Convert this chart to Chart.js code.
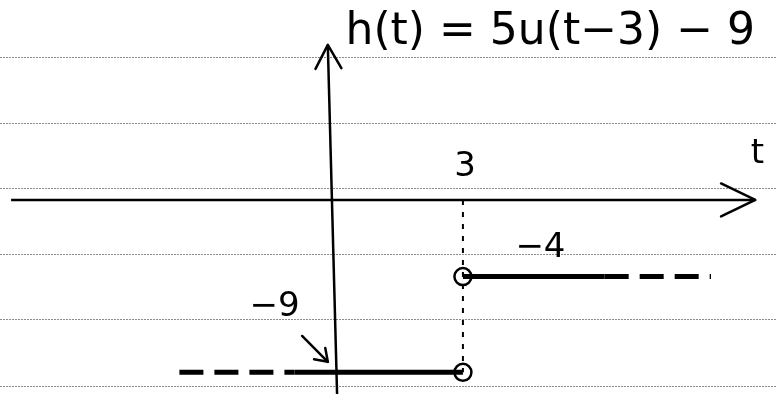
<!DOCTYPE html>
<html>
<head>
<meta charset="utf-8">
<script src="https://cdn.jsdelivr.net/npm/chart.js@4"></script>
<style>
  body { margin: 0; background: #fff; }
  canvas { display: block; }
</style>
</head>
<body>
<canvas id="sketch" width="777" height="394"></canvas>
<script>
// step function h(t) = 5u(t-3) - 9
const stepAt = 3;
const lowLevel = -9;
const highLevel = -4;
const lowerDashT = [-3.4, -0.8];   // drawn as dashes, continues left
const lowerSolidT = [-0.8, 3];
const upperSolidT = [3, 6.2];
const upperDashT = [6.2, 8.6];     // drawn as dashes, continues right

// axes as drawn (slightly crooked, by hand)
const tAxisT = [-7.2, 9.6];
const hAxisT = [0.16, -0.05];
const hAxisH = [-10.2, 8.1];

// ruled paper lines, in h units
const paperRules = [7.46, 4.02, 0.63, -2.82, -6.21, -9.71];

const titleText = "h(t) = 5u(t\u22123) \u2212 9";
const labels = [
  { text: "3", t: 3.05, h: 1.7 },
  { text: "t", t: 9.65, h: 2.4 },
  { text: "\u22124", t: 4.75, h: -2.5 },
  { text: "\u22129", t: -1.25, h: -5.6 },
];
// little arrow from the "-9" label down to the line
const noteArrowT = [-0.63, -0.05];
const noteArrowH = [-7.1, -8.45];

const pts = (ts, hs) => ts.map((t, i) => ({ x: t, y: Array.isArray(hs) ? hs[i] : hs }));

const ink = "#000";

const paperPlugin = {
  id: "paper",
  beforeDatasetsDraw(chart) {
    const { ctx, chartArea, scales } = chart;
    ctx.save();
    ctx.strokeStyle = "#8c8c8c";
    ctx.lineWidth = 1;
    ctx.setLineDash([2, 1]);
    paperRules.forEach((v) => {
      const y = Math.round(scales.y.getPixelForValue(v)) + 0.5;
      ctx.beginPath();
      ctx.moveTo(chartArea.left, y);
      ctx.lineTo(chartArea.right, y);
      ctx.stroke();
    });
    ctx.restore();
  },
};

const arrowHead = (ctx, x0, y0, x1, y1, len, spread) => {
  const a = Math.atan2(y1 - y0, x1 - x0);
  ctx.beginPath();
  ctx.moveTo(x1 - len * Math.cos(a - spread), y1 - len * Math.sin(a - spread));
  ctx.lineTo(x1, y1);
  ctx.lineTo(x1 - len * Math.cos(a + spread), y1 - len * Math.sin(a + spread));
  ctx.stroke();
};

const inkPlugin = {
  id: "ink",
  afterDatasetsDraw(chart) {
    const { ctx, scales } = chart;
    const X = (v) => scales.x.getPixelForValue(v);
    const Y = (v) => scales.y.getPixelForValue(v);
    ctx.save();
    ctx.strokeStyle = ink;
    ctx.fillStyle = ink;
    ctx.lineCap = "round";
    ctx.lineJoin = "round";
    ctx.setLineDash([]);

    // arrow heads of the two axes
    ctx.lineWidth = 2.5;
    arrowHead(ctx, X(tAxisT[0]), Y(0), X(tAxisT[1]), Y(0), 38, 0.45);
    arrowHead(ctx, X(hAxisT[0]), Y(hAxisH[0]), X(hAxisT[1]), Y(hAxisH[1]), 27, 0.5);

    // note arrow
    ctx.lineWidth = 2.5;
    const ax0 = X(noteArrowT[0]), ay0 = Y(noteArrowH[0]);
    const ax1 = X(noteArrowT[1]), ay1 = Y(noteArrowH[1]);
    ctx.beginPath();
    ctx.moveTo(ax0, ay0);
    ctx.lineTo(ax1, ay1);
    ctx.stroke();
    arrowHead(ctx, ax0, ay0, ax1, ay1, 14, 0.6);

    // texts
    ctx.textBaseline = "middle";
    ctx.font = "44px 'DejaVu Sans'";
    ctx.textAlign = "left";
    ctx.fillText(titleText, X(0.35), Y(8.75));
    ctx.textAlign = "center";
    ctx.font = "34px 'DejaVu Sans'";
    labels.forEach((l) => ctx.fillText(l.text, X(l.t), Y(l.h)));
    ctx.restore();
  },
};

new Chart(document.getElementById("sketch"), {
  type: "scatter",
  data: {
    datasets: [
      {
        data: pts(tAxisT, 0),
        showLine: true,
        borderColor: ink,
        borderWidth: 2.5,
        pointRadius: 0,
      },
      {
        data: pts(hAxisT, hAxisH),
        showLine: true,
        borderColor: ink,
        borderWidth: 2.5,
        pointRadius: 0,
      },
      {
        // dotted guide at t = 3
        data: pts([stepAt, stepAt], [0, lowLevel]),
        showLine: true,
        borderColor: ink,
        borderWidth: 2,
        borderDash: [5, 7],
        pointRadius: 0,
      },
      {
        data: pts(lowerDashT, lowLevel),
        showLine: true,
        borderColor: ink,
        borderWidth: 5,
        borderDash: [24, 11],
        pointRadius: 0,
      },
      {
        data: pts(lowerSolidT, lowLevel),
        showLine: true,
        borderColor: ink,
        borderWidth: 5,
        pointRadius: 0,
      },
      {
        data: pts(upperSolidT, highLevel),
        showLine: true,
        borderColor: ink,
        borderWidth: 5,
        pointRadius: 0,
      },
      {
        data: pts(upperDashT, highLevel),
        showLine: true,
        borderColor: ink,
        borderWidth: 5,
        borderDash: [24, 11],
        pointRadius: 0,
      },
      {
        // open circles at the jump
        data: pts([stepAt, stepAt], [lowLevel, highLevel]),
        showLine: false,
        pointRadius: 8.5,
        pointBorderWidth: 2.5,
        pointBackgroundColor: "#fff",
        pointBorderColor: ink,
      },
    ],
  },
  options: {
    responsive: false,
    animation: false,
    events: [],
    layout: { padding: 0, autoPadding: false },
    plugins: { legend: { display: false }, tooltip: { enabled: false }, title: { display: false } },
    scales: {
      x: { type: "linear", min: -7.45, max: 10.09, display: false },
      y: { type: "linear", min: -10.13, max: 10.44, display: false },
    },
  },
  plugins: [paperPlugin, inkPlugin],
});
</script>
</body>
</html>
